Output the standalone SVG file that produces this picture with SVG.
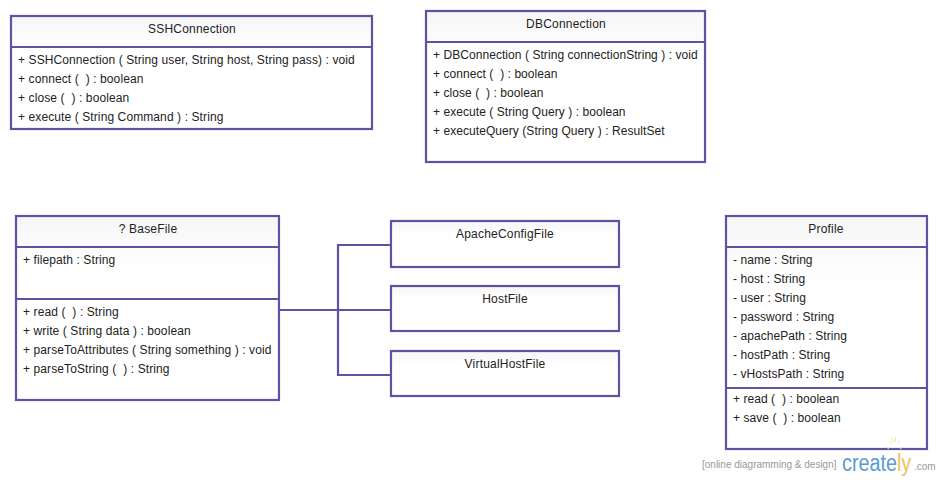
<svg xmlns="http://www.w3.org/2000/svg" width="940" height="480" viewBox="0 0 940 480">
<style>
text{font-family:"Liberation Sans",Arial,sans-serif;font-size:12px;fill:#222;white-space:pre}
#SSHConnection,#BaseFile{letter-spacing:.1px}
#DBConnection,#Profile{letter-spacing:.06px}
.h{-webkit-text-stroke:.45px #222;text-anchor:middle;letter-spacing:.2px}
.b{fill:url(#g);stroke:#5b54a3;stroke-width:2.2}
.l{fill:none;stroke:#5b54a3;stroke-width:2.2}
.w{font-size:10px;fill:#999}
.c{font-size:23px;fill:#5b9bd5}
.y{fill:#f0c060}
</style>
<defs>
<linearGradient id="g" x1="0" y1="0" x2="0" y2="1"><stop offset="0" stop-color="#f6f6f6"/><stop offset="0.3" stop-color="#fff"/></linearGradient>
</defs>
<rect width="940" height="480" fill="#fff"/>
<g id="connectors">
<path class="l" d="M279 310H390M338 310V245H390M338 310V375H390"/>
</g>
<g id="SSHConnection">
<rect class="b" x="11" y="16" width="361" height="113"/>
<path class="l" d="M11 47H372"/>
<text class="h" x="192" y="33">SSHConnection</text>
<text x="18" y="64">+ SSHConnection ( String user, String host, String pass) : void</text>
<text x="18" y="83">+ connect (  ) : boolean</text>
<text x="18" y="102">+ close (  ) : boolean</text>
<text x="18" y="121">+ execute ( String Command ) : String</text>
</g>
<g id="DBConnection">
<rect class="b" x="426" y="11" width="279" height="151"/>
<path class="l" d="M426 42H705"/>
<text class="h" x="566" y="28">DBConnection</text>
<text x="433" y="59">+ DBConnection ( String connectionString ) : void</text>
<text x="433" y="78">+ connect (  ) : boolean</text>
<text x="433" y="97">+ close (  ) : boolean</text>
<text x="433" y="116">+ execute ( String Query ) : boolean</text>
<text x="433" y="135">+ executeQuery (String Query ) : ResultSet</text>
</g>
<g id="BaseFile">
<rect class="b" x="16" y="216" width="263" height="184"/>
<path class="l" d="M16 247H279M16 299H279"/>
<text class="h" x="148" y="233">? BaseFile</text>
<text x="23" y="264">+ filepath : String</text>
<text x="23" y="316">+ read (  ) : String</text>
<text x="23" y="335">+ write ( String data ) : boolean</text>
<text x="23" y="354">+ parseToAttributes ( String something ) : void</text>
<text x="23" y="373">+ parseToString (  ) : String</text>
</g>
<g id="ApacheConfigFile">
<rect class="b" x="391" y="221" width="228" height="46"/>
<text class="h" x="505" y="238">ApacheConfigFile</text>
</g>
<g id="HostFile">
<rect class="b" x="391" y="286" width="228" height="45"/>
<text class="h" x="505" y="303">HostFile</text>
</g>
<g id="VirtualHostFile">
<rect class="b" x="391" y="351" width="228" height="45"/>
<text class="h" x="505" y="368">VirtualHostFile</text>
</g>
<g id="Profile">
<rect class="b" x="726" y="216" width="201" height="233"/>
<path class="l" d="M726 247H927M726 388H927"/>
<text class="h" x="826" y="233">Profile</text>
<text x="733" y="264">- name : String</text>
<text x="733" y="283">- host : String</text>
<text x="733" y="302">- user : String</text>
<text x="733" y="321">- password : String</text>
<text x="733" y="340">- apachePath : String</text>
<text x="733" y="359">- hostPath : String</text>
<text x="733" y="378">- vHostsPath : String</text>
<text x="733" y="403">+ read (  ) : boolean</text>
<text x="733" y="422">+ save (  ) : boolean</text>
</g>
<g id="watermark">
<text class="w" x="702" y="468">[online diagramming &amp; design]</text>
<text class="c" transform="translate(842 471) scale(.86 1)">create<tspan class="y">ly</tspan></text>
<text class="w" x="914" y="470">.com</text>
<path d="M886 447l3 2M889 441l3 3M892 438l1 4M896 437l-1 5M900 441l-3 3M903 447l-3 2" fill="none" stroke="#f5dca8" stroke-width="1"/>
</g>
</svg>
